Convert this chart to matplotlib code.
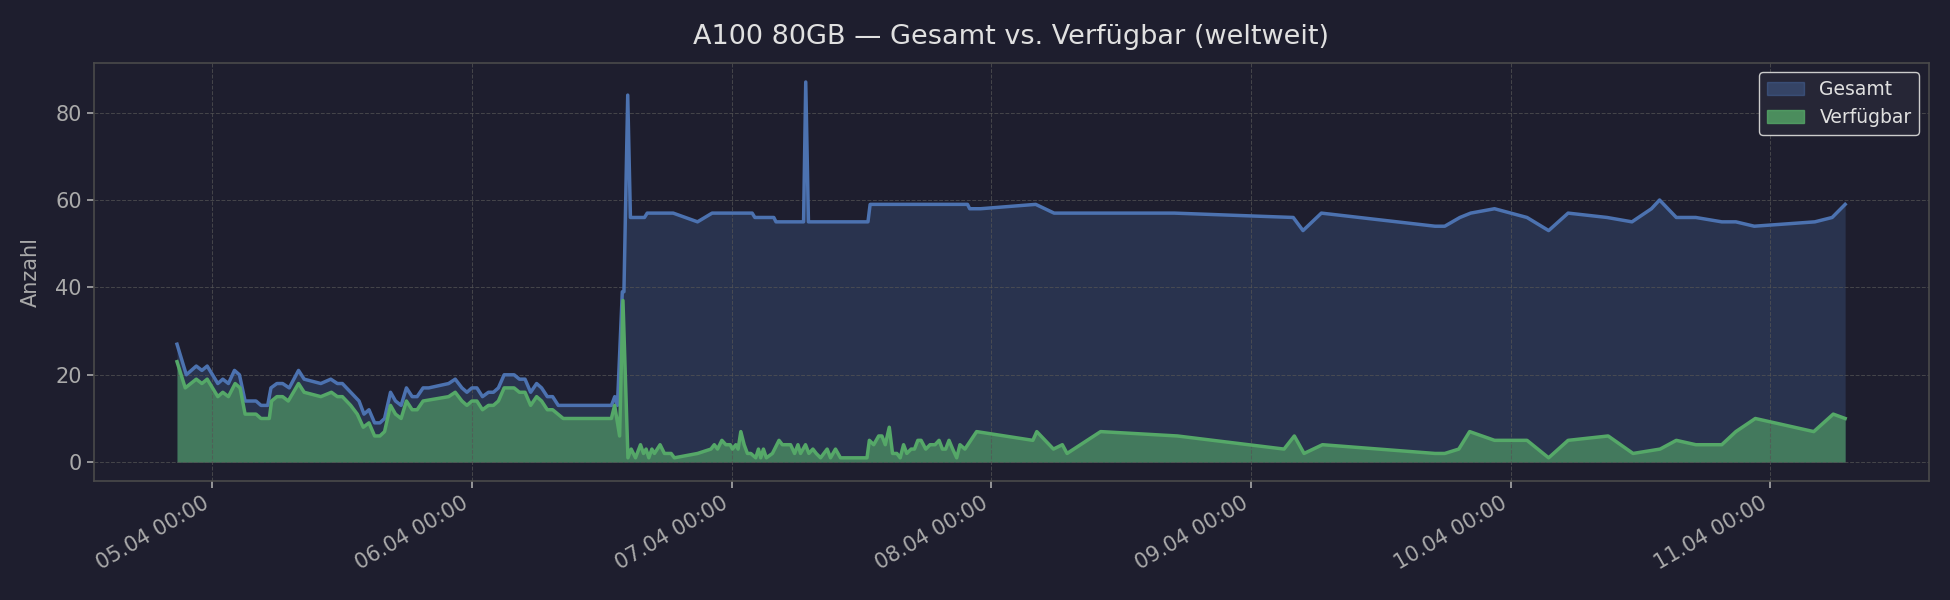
import pandas as pd
import matplotlib
matplotlib.use("Agg")
from matplotlib import pyplot as plt
import matplotlib.dates as mdates
from matplotlib.patches import Patch

# hours after 05.04 00:00
gesamt_h = [-3.25, -2.39, -1.47, -0.95, -0.46, 0.52, 0.98, 1.50, 2.06, 2.52, 3.04, 4.05, 4.51, 5.13,
            5.43, 5.98, 6.51, 7.12, 7.98, 8.50, 10.04, 10.96, 11.57, 12.03, 12.80, 13.57, 14.03, 14.49,
            15.01, 15.50, 15.93, 16.48, 16.94, 17.46, 17.95, 18.48, 18.94, 19.49, 20.01, 21.85, 22.46,
            23.08, 23.54, 24.00, 24.46, 24.98, 25.53, 25.99, 26.45, 26.98, 27.90, 28.39, 28.91, 29.43,
            29.98, 30.44, 30.97, 31.46, 31.98, 36.9, 37.2, 37.45, 37.9, 38.05, 38.4, 38.65, 39.95, 40.2,
            42.6, 44.85, 46.2, 49.9, 50.15, 51.9, 52.1, 54.65, 54.85, 55.1, 60.6, 60.8, 69.8, 70.0,
            71.0, 76.1, 77.8, 88.9, 99.9, 100.8, 102.5, 113.0, 113.9, 115.3, 116.3, 118.5, 121.5, 123.5,
            125.3, 128.9, 131.2, 133.0, 133.75, 135.3, 137.1, 139.5, 140.8, 142.5, 148.1, 149.7, 150.9]
gesamt = [27, 20, 22, 21, 22, 18, 19, 18, 21, 20, 14, 14, 13, 13,
          17, 18, 18, 17, 21, 19, 18, 19, 18, 18, 16, 14, 11, 12,
          9, 9, 10, 16, 14, 13, 17, 15, 15, 17, 17, 18, 19,
          17, 16, 17, 17, 15, 16, 16, 17, 20, 20, 19, 19, 16,
          18, 17, 15, 15, 13, 13, 15, 13, 39, 39, 84, 56, 56, 57,
          57, 55, 57, 57, 56, 56, 55, 55, 87, 55, 55, 59, 59, 58,
          58, 59, 57, 57, 56, 53, 57, 54, 54, 56, 57, 58, 56, 53,
          57, 56, 55, 58, 60, 56, 56, 55, 55, 54, 55, 56, 59]

verf_h = [-3.25, -2.49, -1.47, -0.95, -0.46, 0.52, 0.98, 1.50, 2.12, 2.58, 3.04, 4.05, 4.51, 5.28,
          5.49, 5.98, 6.51, 7.03, 7.98, 8.50, 10.04, 11.02, 11.57, 12.03, 12.80, 13.41, 13.96, 14.49,
          15.01, 15.50, 15.93, 16.48, 16.94, 17.46, 17.95, 18.48, 18.94, 19.49, 21.85, 22.46, 23.08,
          23.54, 24.00, 24.46, 24.98, 25.53, 25.99, 26.45, 26.98, 27.90, 28.39, 28.91, 29.43, 29.98,
          30.44, 30.97, 31.46, 32.44, 36.89, 37.19, 37.65, 37.96, 38.42, 38.72, 39.12, 39.58, 39.86,
          40.10, 40.35, 40.63, 40.87, 41.39, 41.79, 42.41, 42.71, 44.86, 46.09, 46.40, 46.70, 47.10,
          47.47, 47.87, 48.08, 48.39, 48.60, 48.85, 49.16, 49.46, 49.77, 50.23, 50.48, 50.69, 50.94,
          51.21, 51.77, 52.38, 52.69, 53.45, 53.82, 54.13, 54.37, 54.83, 55.14, 55.51, 55.82, 56.22,
          56.83, 57.14, 57.60, 58.06, 60.51, 60.73, 61.13, 61.59, 61.89, 62.20, 62.57, 62.87, 63.27,
          63.58, 63.89, 64.19, 64.59, 64.90, 65.21, 65.51, 65.94, 66.34, 66.80, 67.17, 67.48, 67.78,
          68.09, 68.43, 68.80, 69.10, 69.56, 70.64, 75.84, 76.2, 77.74, 78.56, 79.0, 82.1, 89.2,
          99.05, 100.0, 100.9, 102.6, 113.0, 113.9, 115.2, 116.2, 118.5, 121.5, 123.5, 125.3, 129.0,
          131.3, 133.8, 135.3, 137.1, 139.5, 140.8, 142.6, 148.0, 149.8, 150.9]
verfuegbar = [23, 17, 19, 18, 19, 15, 16, 15, 18, 17, 11, 11, 10, 10,
              14, 15, 15, 14, 18, 16, 15, 16, 15, 15, 13, 11, 8, 9,
              6, 6, 7, 13, 11, 10, 14, 12, 12, 14, 15, 16, 14,
              13, 14, 14, 12, 13, 13, 14, 17, 17, 16, 16, 13, 15,
              14, 12, 12, 10, 10, 13, 6, 37, 1, 3, 1, 4, 2,
              3, 1, 3, 2, 4, 2, 2, 1, 2, 3, 4, 3, 5,
              4, 4, 3, 4, 3, 7, 4, 2, 2, 1, 3, 1, 3,
              1, 2, 5, 4, 4, 2, 4, 2, 4, 2, 3, 2, 1,
              3, 1, 3, 1, 1, 5, 4, 6, 6, 4, 8, 2, 2,
              1, 4, 2, 3, 3, 5, 5, 3, 4, 4, 5, 3, 3,
              5, 3, 1, 4, 3, 7, 5, 7, 3, 4, 2, 7, 6,
              3, 6, 2, 4, 2, 2, 3, 7, 5, 5, 1, 5, 6,
              2, 3, 5, 4, 4, 7, 10, 7, 11, 10]

base = pd.Timestamp("2024-04-05 00:00")
t_g = base + pd.to_timedelta(gesamt_h, unit="h")
t_v = base + pd.to_timedelta(verf_h, unit="h")

bg = "#1e1e2e"
blue = "#4c72b0"
green = "#55a868"
txt = "#aaaaaa"

fig, ax = plt.subplots(figsize=(19.5, 6), dpi=100)
fig.patch.set_facecolor(bg)
ax.set_facecolor(bg)

ax.fill_between(t_g, gesamt, 0, color=blue, alpha=0.25, lw=0)
ax.plot(t_g, gesamt, color=blue, lw=2.5)
ax.fill_between(t_v, verfuegbar, 0, color=green, alpha=0.6, lw=0)
ax.plot(t_v, verfuegbar, color=green, lw=2.5)

ax.set_title("A100 80GB — Gesamt vs. Verfügbar (weltweit)", color="#e0e0e0", fontsize=19.5, pad=14)
ax.set_ylabel("Anzahl", color=txt, fontsize=15, labelpad=10)
ax.xaxis.set_major_locator(mdates.DayLocator())
ax.xaxis.set_major_formatter(mdates.DateFormatter("%d.%m %H:%M"))
ax.tick_params(colors=txt, labelsize=15, length=5, width=1.2)
plt.setp(ax.get_xticklabels(), rotation=30, ha="right")
ax.grid(True, color="#555555", linestyle="--", linewidth=0.75, alpha=0.7)
for s in ax.spines.values():
    s.set_color("#4a4a4a")
    s.set_linewidth(1.2)

handles = [Patch(facecolor=blue, alpha=0.4, edgecolor=blue, label="Gesamt"),
           Patch(facecolor=green, alpha=0.8, edgecolor=green, label="Verfügbar")]
leg = ax.legend(handles=handles, loc="upper right", fontsize=13.5, facecolor="#262636",
                edgecolor="#cccccc", labelcolor="#e0e0e0", framealpha=1)

plt.subplots_adjust(left=0.048, right=0.989, top=0.895, bottom=0.198)
plt.savefig("out.png", facecolor=bg)
